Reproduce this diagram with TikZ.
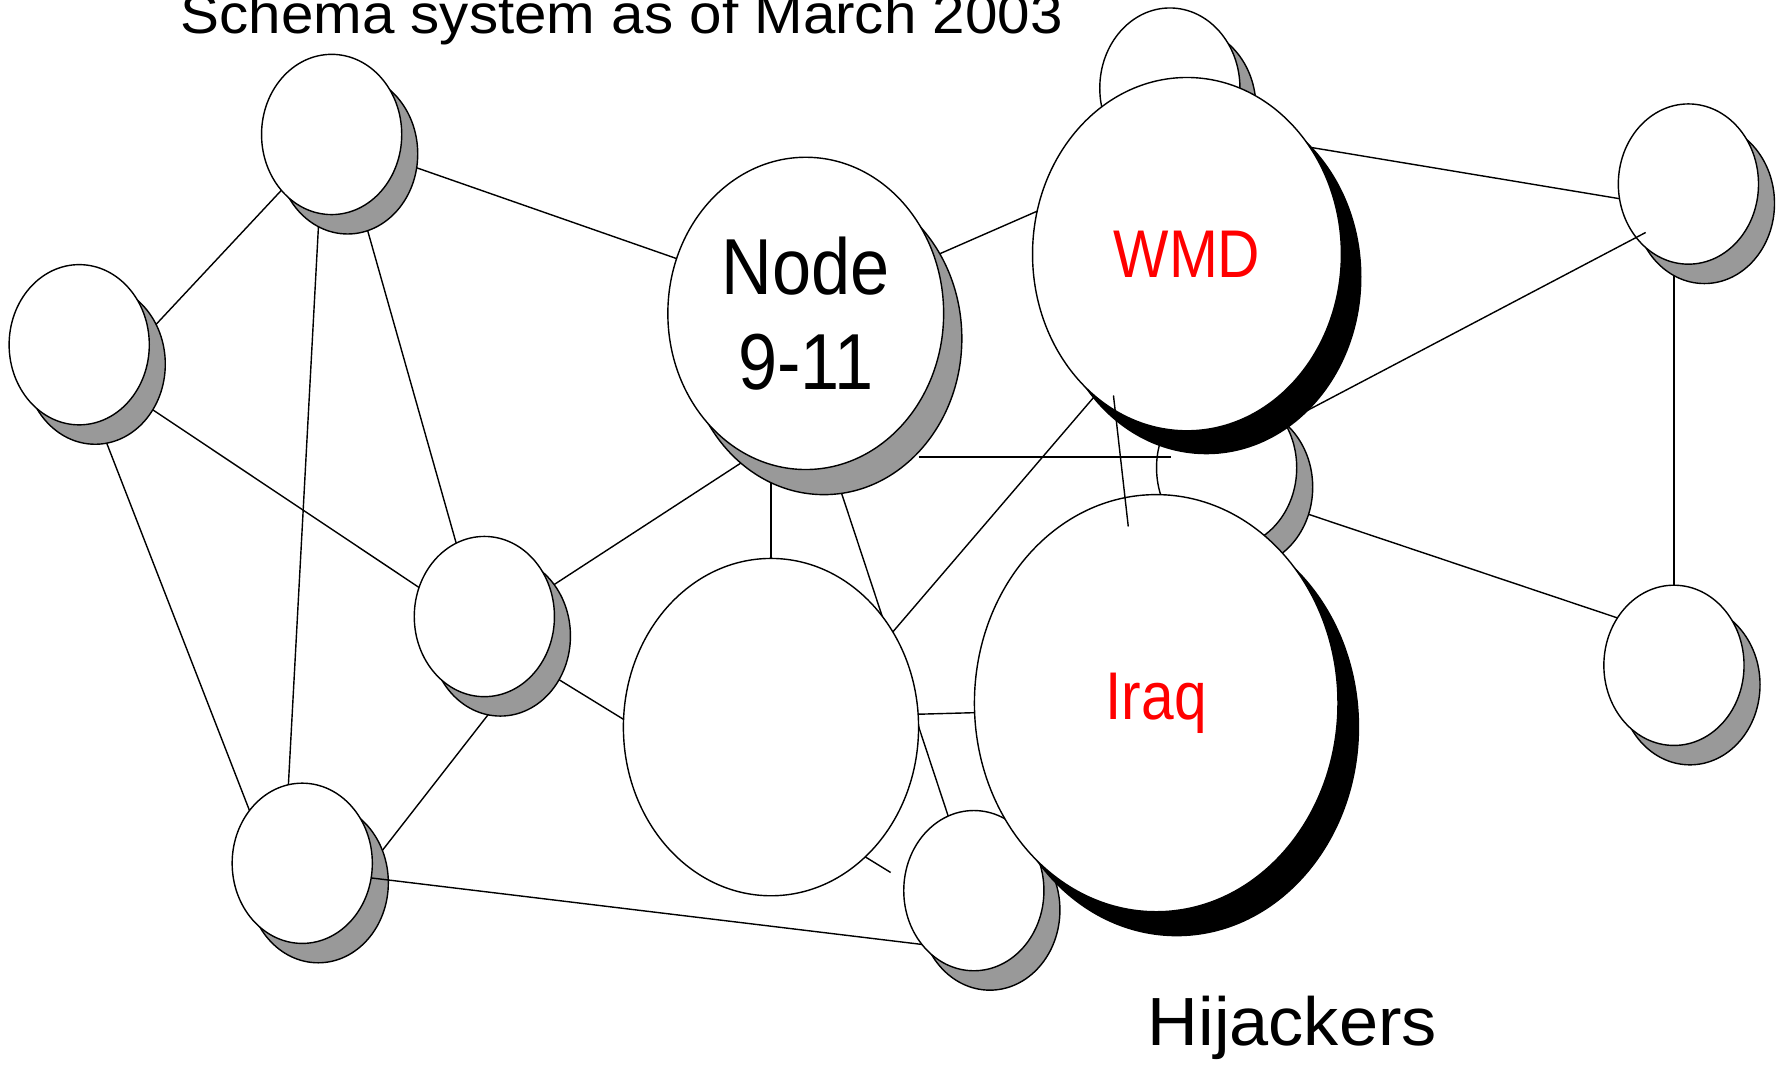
\documentclass[tikz,border=0pt]{standalone}
\usepackage{graphicx}
\usepackage{fontspec}
\setmainfont{Liberation Sans}
\usetikzlibrary{shapes.geometric,shadows,calc}
\definecolor{shadegray}{HTML}{999999}
\newcommand{\pxu}{0.11397mm}
\newcommand{\tallText}[2]{\scalebox{1}[#1]{#2}}
\tikzset{
  bubble/.style={ellipse, draw=black, fill=white, line width=0.4pt, inner sep=0pt, outer sep=0pt},
  grayshadow/.style 2 args={drop shadow={shadow xshift=#1, shadow yshift=#2, fill=shadegray, draw=black, opacity=1}},
  blackshadow/.style 2 args={drop shadow={shadow xshift=#1, shadow yshift=#2, fill=black, draw=black, opacity=1}},
  small/.style={bubble, grayshadow={1.6mm}{-1.94mm}, minimum width=123*\pxu, minimum height=140.6*\pxu},
  link/.style={line width=0.4pt},
  redlabel/.style={text=red, font=\fontsize{16.7}{20}\selectfont}
}

\begin{document}
\begin{tikzpicture}[x=\pxu, y=-\pxu]
  \useasboundingbox (0,0) rectangle (1568,941.5);

  % anchors first, drawn for real further down
  \begin{scope}[transparency group, opacity=0]
  \node[bubble, minimum width=123*\pxu, minimum height=140.6*\pxu] (nw) at (291,118) {};
  \node[bubble, minimum width=123*\pxu, minimum height=140.6*\pxu] (w) at (69.5,302.5) {};
  \node[bubble, minimum width=123*\pxu, minimum height=140.6*\pxu] (cw) at (425,541) {};
  \node[bubble, minimum width=123*\pxu, minimum height=140.6*\pxu] (sw) at (265.2,757.5) {};
  \node[bubble, minimum width=123*\pxu, minimum height=140.6*\pxu] (s) at (854.5,781.5) {};
  \node[bubble, minimum width=123*\pxu, minimum height=140.6*\pxu] (e) at (1076.3,410.4) {};
  \node[bubble, minimum width=123*\pxu, minimum height=140.6*\pxu] (ne) at (1481.5,161.5) {};
  \node[bubble, minimum width=123*\pxu, minimum height=140.6*\pxu] (se) at (1468.8,583.8) {};
  \node[bubble, minimum width=242*\pxu, minimum height=274*\pxu] (n911) at (707,275) {};
  \node[bubble, minimum width=259*\pxu, minimum height=296*\pxu] (ctr) at (676.5,638) {};
  \node[bubble, minimum width=271*\pxu, minimum height=310*\pxu] (wmd) at (1041.5,223) {};
  \node[bubble, minimum width=319*\pxu, minimum height=366*\pxu] (iraq) at (1014.5,617) {};
  \end{scope}

  % links under the bubbles
  \draw[link] (nw.-22) -- (n911.157);
  \draw[link] (nw.228) -- (w.10);
  \draw[link] (nw.261) -- (sw.100);
  \draw[link] (nw.292) -- (cw.111);
  \draw[link] (w.316) -- (cw.156);
  \draw[link] (w.284) -- (sw.135);
  \draw[link] (cw.24) -- (n911.249);
  \draw[link] (cw.317) -- (ctr.177);
  \draw[link] (cw.285) -- (sw.0);
  \draw[link] (ctr.north) -- (ctr.north |- n911.south);
  \draw[link] (n911.280) -- (s.109);
  \draw[link] (n911.24) -- (wmd.164);
  \draw[link] (ctr.38) -- (wmd.237);
  \draw[link] (ctr.5) -- (iraq.183);
  \draw[link, shorten >=1.6mm] (ctr.306) -- (s.172);
  \draw[link] (wmd.41) -- (ne.192);
  \draw[link] (ne.south -| se.north) -- (se.north);
  \draw[link] (e.327) -- (se.140);

  % bubbles
  \node[small] (nw) at (291,118) {};
  \node[small] (w) at (69.5,302.5) {};
  \node[small] (cw) at (425,541) {};
  \node[small] (sw) at (265.2,757.5) {};
  \node[bubble, grayshadow={1.82mm}{-2.51mm}, minimum width=242*\pxu, minimum height=274*\pxu,
        align=center, font=\fontsize{20}{27}\selectfont] (n911) at (707,275)
        {\tallText{1.13}{Node}\\\tallText{1.13}{9-11}};
  \node[bubble, minimum width=259*\pxu, minimum height=296*\pxu] (ctr) at (676.5,638) {};
  \node[small] (s) at (854.5,781.5) {};
  \node[small] (e) at (1076.3,410.4) {};
  \node[small] (nn) at (1026.5,77.3) {};
  \node[small] (ne) at (1481.5,161.5) {};
  \node[small] (se) at (1468.8,583.8) {};

  % links over some bubbles
  \draw[link] (sw.348) -- (s.226);
  \draw[link] ($(n911)+(99,126)$) -- ($(e)+(-49,-9.4)$);
  \draw[link] (e.38) -- ($(ne)+(-37.5,42.5)$);

  \node[bubble, blackshadow={2.05mm}{-2.39mm}, minimum width=319*\pxu, minimum height=366*\pxu,
        redlabel] (iraq) at (1014.5,617) {\tallText{1.15}{Iraq}};
  \node[bubble, blackshadow={1.94mm}{-2.28mm}, minimum width=271*\pxu, minimum height=310*\pxu,
        redlabel] (wmd) at (1041.5,223) {\tallText{1.15}{WMD}};
  \draw[link] ($(wmd)+(-64.5,124)$) -- ($(iraq)+(-24.5,-155)$);

  % texts
  \node[anchor=base west, inner sep=0pt, font=\fontsize{16.6}{20}\selectfont] (title) at (157.9,29.5)
        {\tallText{0.95}{Schema system as of March 2003}};
  \node[anchor=base west, inner sep=0pt, font=\fontsize{20}{24}\selectfont] (hijack) at (1006.4,917)
        {\tallText{0.97}{Hijackers}};
\end{tikzpicture}
\end{document}
